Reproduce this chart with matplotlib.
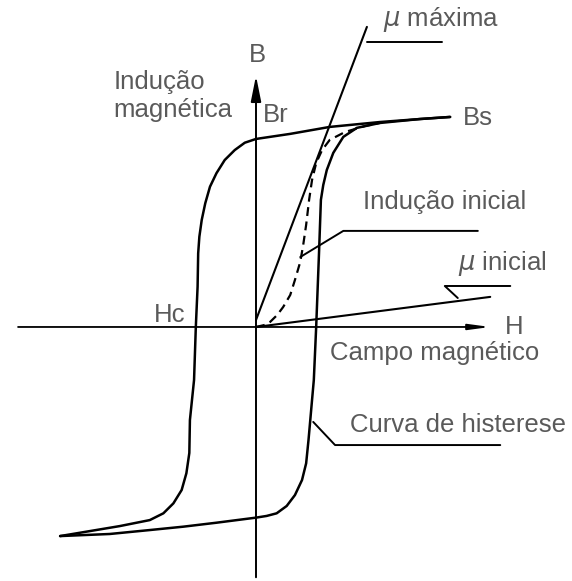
import numpy as np
import matplotlib.pyplot as plt

# Hysteresis loop of a ferromagnetic material (H scaled so that Hc = 1, B so that Br = 1)
upper_H = [3.29, 2.78, 2.10, 1.25, 0.58, 0.0, -0.19, -0.36, -0.53, -0.67, -0.78, -0.86,
           -0.92, -0.96, -0.98, -0.99, -1.02, -1.05, -1.12, -1.13, -1.18, -1.26, -1.40,
           -1.57, -1.80, -2.31, -3.32]
upper_B = [1.117, 1.106, 1.090, 1.064, 1.027, 1.000, 0.980, 0.941, 0.888, 0.818, 0.746,
           0.658, 0.569, 0.480, 0.392, 0.214, 0.0, -0.282, -0.495, -0.670, -0.778, -0.867,
           -0.938, -0.991, -1.027, -1.059, -1.112]

lower_H = [-3.32, -2.48, -1.80, -1.23, -0.67, 0.0, 0.18, 0.35, 0.52, 0.66, 0.78, 0.85,
           0.89, 0.92, 0.95, 0.98, 1.02, 1.07, 1.10, 1.14, 1.20, 1.31, 1.48, 1.71, 2.10,
           2.78, 3.29]
lower_B = [-1.112, -1.101, -1.080, -1.062, -1.041, -1.014, -1.005, -0.991, -0.952, -0.894,
           -0.814, -0.725, -0.601, -0.495, -0.388, -0.282, 0.0, 0.410, 0.676, 0.755, 0.835,
           0.926, 1.011, 1.059, 1.085, 1.106, 1.117]

# initial magnetisation curve
init_H = [0.0, 0.15, 0.24, 0.36, 0.46, 0.58, 0.66, 0.75, 0.80, 0.85, 0.90, 0.95, 1.02,
          1.12, 1.25, 1.51, 1.85, 2.10]
init_B = [0.0, 0.011, 0.027, 0.064, 0.106, 0.170, 0.250, 0.346, 0.436, 0.543, 0.676,
          0.782, 0.872, 0.941, 0.995, 1.037, 1.069, 1.085]

# permeability tangents
mu_max_H = [0.0, 1.88]
mu_max_B = [0.037, 1.596]
mu_ini_H = [0.0, 3.97]
mu_ini_B = [0.0, 0.160]

# callouts: text, text anchor, leader path
callouts = [
    (r"$\mu$ máxima", (2.15, 1.633), [(1.88, 1.516), (3.15, 1.516)]),
    ("Indução inicial", (1.81, 0.665), [(0.75, 0.372), (1.48, 0.511), (3.76, 0.511)]),
    (r"$\mu$ inicial", (3.42, 0.340), [(3.42, 0.154), (3.20, 0.218), (4.31, 0.218)]),
    ("Curva de histerese", (1.59, -0.521), [(0.97, -0.505), (1.34, -0.628), (4.14, -0.628)]),
]

plt.rcParams['font.family'] = ['Liberation Sans', 'DejaVu Sans']
plt.rcParams['mathtext.fontset'] = 'custom'
plt.rcParams['mathtext.it'] = 'DejaVu Sans:italic'
txt = dict(fontsize=18.5, color='#5a5a5a', va='center')

fig = plt.figure(figsize=(5.72, 5.81), dpi=100)
ax = fig.add_axes([0, 0, 1, 1])
ax.set_xlim(-4.339, 5.356)
ax.set_ylim(-1.351, 1.739)
ax.axis('off')

# axes with arrows
ax.annotate('', xy=(4.02, 0), xytext=(-4.08, 0),
            arrowprops=dict(arrowstyle='-|>,head_length=0.9,head_width=0.12',
                            mutation_scale=14, lw=1.3, color='black'))
ax.annotate('', xy=(0, 1.351), xytext=(0, -1.346),
            arrowprops=dict(arrowstyle='-|>,head_length=1.1,head_width=0.22',
                            mutation_scale=14, lw=1.4, color='black'))

line = dict(color='black', solid_joinstyle='round', solid_capstyle='round')
ax.plot(upper_H, upper_B, lw=1.8, **line)
ax.plot(lower_H, lower_B, lw=1.8, **line)
ax.plot(init_H, init_B, color='black', lw=1.6, ls=(0, (4, 2.5)))
ax.plot(mu_max_H, mu_max_B, lw=1.5, **line)
ax.plot(mu_ini_H, mu_ini_B, lw=1.5, **line)

for label, pos, path in callouts:
    px, py = zip(*path)
    ax.plot(px, py, lw=1.4, **line)
    ax.text(pos[0], pos[1], label, ha='left', **txt)

ax.text(0.03, 1.447, "B", ha='center', **txt)
ax.text(0.12, 1.128, "Br", ha='left', **txt)
ax.text(3.51, 1.112, "Bs", ha='left', **txt)
ax.text(-1.19, 0.064, "Hc", ha='right', **txt)
ax.text(4.22, 0.0, "H", ha='left', **txt)
ax.text(1.25, -0.138, "Campo magnético", ha='left', **txt)
ax.text(-2.42, 1.229, "Indução\nmagnética", ha='left', linespacing=1.2, **txt)

fig.savefig('out.png', dpi=100)
